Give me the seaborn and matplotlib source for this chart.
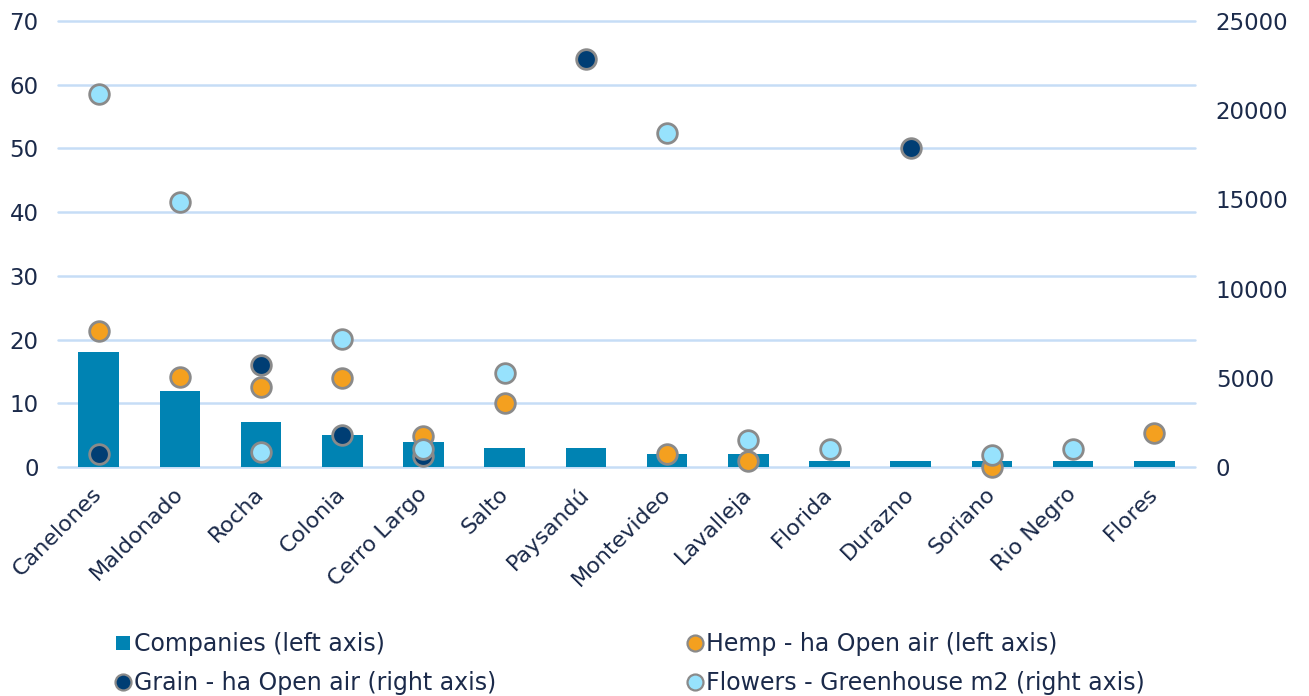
import matplotlib
matplotlib.use("Agg")
import matplotlib.pyplot as plt
from matplotlib.lines import Line2D
import seaborn as sns
import pandas as pd

# Departments of Uruguay
departments = ["Canelones", "Maldonado", "Rocha", "Colonia", "Cerro Largo", "Salto",
               "Paysandú", "Montevideo", "Lavalleja", "Florida", "Durazno", "Soriano",
               "Rio Negro", "Flores"]

# Left axis series
companies = [18, 12, 7, 5, 4, 3, 3, 2, 2, 1, 1, 1, 1, 1]
hemp_ha = [21.4, 14.2, 12.5, 14.0, 4.8, 10.0, None, 2.0, 0.9, None, None, 0.0, None, 5.3]

# Right axis series
grain_ha = [730, None, 5720, 1790, 600, None, 22860, None, None, None, 17860, None, None, None]
flowers_m2 = [20900, 14850, 860, 7180, 1010, 5250, None, 18710, 1510, 1010, None, 670, 1010, None]

left_ticks = [0, 10, 20, 30, 40, 50, 60, 70]
right_ticks = [0, 5000, 10000, 15000, 20000, 25000]

df = pd.DataFrame({"department": departments, "companies": companies,
                   "hemp": hemp_ha, "grain": grain_ha, "flowers": flowers_m2})

C_BAR = "#0083b3"
C_HEMP = "#f4a01f"
C_GRAIN = "#003e74"
C_FLOWER = "#97e2fd"
C_EDGE = "#8a8a8a"
C_TEXT = "#1b2a4a"
C_GRID = "#c6ddf6"

sns.set_theme(style="white")
plt.rcParams["font.family"] = ["DejaVu Sans"]

W, H = 1309, 696
fig = plt.figure(figsize=(W / 100, H / 100), dpi=100)
ax = fig.add_axes([58 / W, 1 - 467 / H, 1137 / W, 446 / H])

sns.barplot(data=df, x="department", y="companies", color=C_BAR, width=0.5,
            saturation=1, linewidth=0, ax=ax, zorder=2)
marker_kw = dict(s=200, edgecolor=C_EDGE, linewidth=2.0, clip_on=False, legend=False)
sns.scatterplot(data=df, x="department", y="hemp", color=C_HEMP, ax=ax, zorder=3, **marker_kw)

ax.set_ylim(0, 70)
ax.set_yticks(left_ticks)
ax.set_xlim(-0.5, len(departments) - 0.5)
ax.yaxis.grid(True, color=C_GRID, linewidth=1.8)
for gl in ax.get_ygridlines():
    gl.set_clip_on(False)
ax.set_axisbelow(True)
for s in ax.spines.values():
    s.set_visible(False)
ax.set_xlabel("")
ax.set_ylabel("")

ax2 = ax.twinx()
sns.scatterplot(data=df, x="department", y="grain", color=C_GRAIN, ax=ax2, zorder=3, **marker_kw)
sns.scatterplot(data=df, x="department", y="flowers", color=C_FLOWER, ax=ax2, zorder=4, **marker_kw)
ax2.set_ylim(0, 25000)
ax2.set_yticks(right_ticks)
ax2.set_xlim(-0.5, len(departments) - 0.5)
ax2.grid(False)
for s in ax2.spines.values():
    s.set_visible(False)
ax2.set_ylabel("")
ax2.patch.set_visible(False)

ax.tick_params(axis="y", length=0, pad=14, labelsize=16.5, labelcolor=C_TEXT)
ax2.tick_params(axis="y", length=0, pad=15, labelsize=16.5, labelcolor=C_TEXT)
ax.tick_params(axis="x", length=0, pad=17, labelsize=16, labelcolor=C_TEXT)
ax.set_xticks(range(len(departments)))
ax.set_xticklabels(departments, rotation=45, ha="right", va="center", rotation_mode="anchor")


def dot(face, edge, shape="o", size=11.5, ew=1.6):
    return Line2D([], [], marker=shape, linestyle="none", markersize=size,
                  markerfacecolor=face, markeredgecolor=edge, markeredgewidth=ew)


legend_kw = dict(loc="upper left", frameon=False, fontsize=17, labelcolor=C_TEXT,
                 handlelength=0.65, handletextpad=0.15, labelspacing=0.63,
                 borderpad=0, borderaxespad=0)
leg1 = fig.legend([dot(C_BAR, C_BAR, "s", 9.5, 0), dot(C_GRAIN, C_EDGE)],
                  ["Companies (left axis)", "Grain - ha Open air (right axis)"],
                  bbox_to_anchor=(115 / W, 1 - 632 / H), **legend_kw)
leg2 = fig.legend([dot(C_HEMP, C_EDGE), dot(C_FLOWER, C_EDGE)],
                  ["Hemp - ha Open air (left axis)", "Flowers - Greenhouse m2 (right axis)"],
                  bbox_to_anchor=(687 / W, 1 - 632 / H), **legend_kw)

fig.savefig("out.png", dpi=100)
